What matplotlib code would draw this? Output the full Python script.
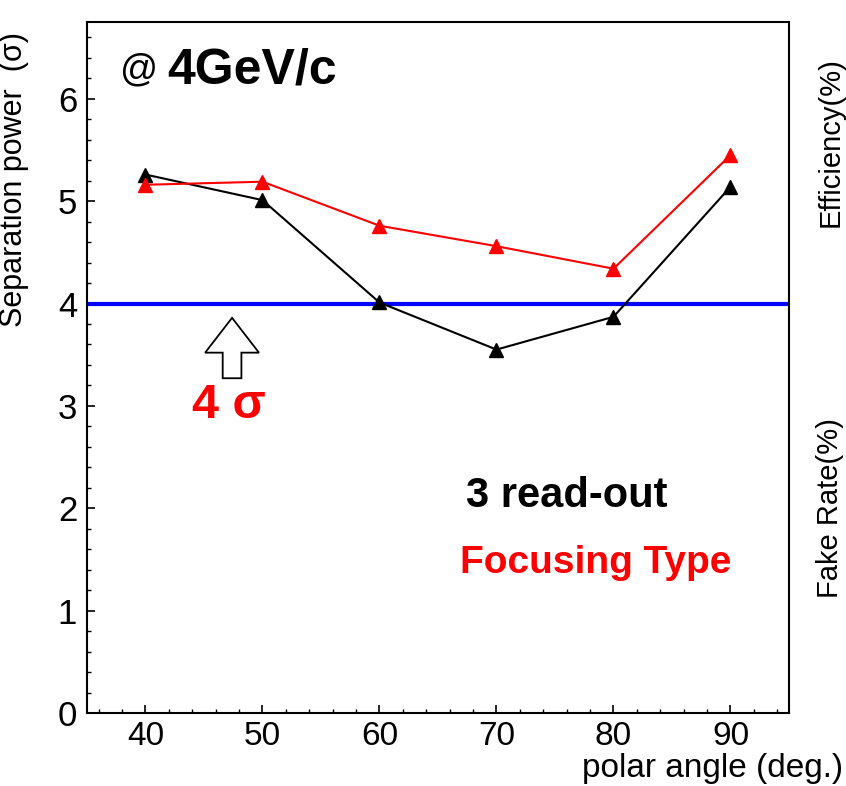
import matplotlib
matplotlib.use("Agg")
import matplotlib.pyplot as plt
from matplotlib.patches import FancyArrow
from matplotlib.ticker import MultipleLocator

angles = [40, 50, 60, 70, 80, 90]
sep_readout = [5.26, 5.01, 4.01, 3.55, 3.87, 5.14]
sep_focusing = [5.16, 5.19, 4.76, 4.56, 4.34, 5.45]
threshold = 4.0

plt.rcParams["font.family"] = ["Liberation Sans", "DejaVu Sans"]

fig = plt.figure(figsize=(8.46, 7.86), dpi=100)
ax = fig.add_axes([0.1028, 0.0929, 0.8298, 0.8791])

ax.axhline(threshold, color="#0000ff", lw=3.0, zorder=2)
ax.plot(angles, sep_readout, color="black", lw=1.5, marker="^", ms=10, zorder=3)
ax.plot(angles, sep_focusing, color="#ff0000", lw=1.5, marker="^", ms=10, zorder=4)

ax.set_xlim(35, 95)
ax.set_ylim(0, 6.75)
ax.xaxis.set_major_locator(MultipleLocator(10))
ax.xaxis.set_minor_locator(MultipleLocator(2))
ax.yaxis.set_major_locator(MultipleLocator(1))
ax.yaxis.set_minor_locator(MultipleLocator(0.2))
ax.tick_params(which="both", direction="in", top=False, right=False)
ax.tick_params(which="major", length=6, width=1.2)
ax.tick_params(which="minor", length=3, width=1.0)
ax.tick_params(axis="y", labelsize=25, pad=7)
ax.tick_params(axis="x", labelsize=24, pad=6)
for sp in ax.spines.values():
    sp.set_linewidth(1.5)

ax.set_ylabel("Separation power  (σ)", fontsize=22)
ax.yaxis.set_label_coords(-0.083, 0.772)
fig.text(0.997, 0.002, "polar angle (deg.)", fontsize=24, ha="right", va="bottom")

# hollow arrow pointing at the 4 sigma line
ax.add_patch(FancyArrow(47.4, 3.27, 0, 0.59, width=1.6, head_width=4.6,
                        head_length=0.34, length_includes_head=True,
                        facecolor="white", edgecolor="black", lw=1.3, zorder=5))
ax.text(47.1, 3.0, "4 σ", color="#ff0000", fontsize=35, fontweight="bold",
        ha="center", va="center")

ax.text(0.047, 0.93, "@", fontsize=27, ha="left", va="center", transform=ax.transAxes)
ax.text(0.115, 0.93, "4GeV/c", fontsize=36, fontweight="heavy",
        ha="left", va="center", transform=ax.transAxes)

ax.text(76.0, 2.12, "3 read-out", fontsize=30, ha="center", va="center",
        fontweight="bold")
ax.text(78.5, 1.47, "Focusing Type", fontsize=28, color="#ff0000",
        ha="center", va="center", fontweight="bold")

# labels of the neighbouring panel at the right edge
fig.text(0.998, 1 - 227 / 786, "Efficiency(%)", fontsize=21, rotation=90,
         ha="right", va="bottom")
fig.text(0.998, 1 - 598 / 786, "Fake Rate(%)", fontsize=21, rotation=90,
         ha="right", va="bottom")

fig.savefig("out.png", dpi=100)
